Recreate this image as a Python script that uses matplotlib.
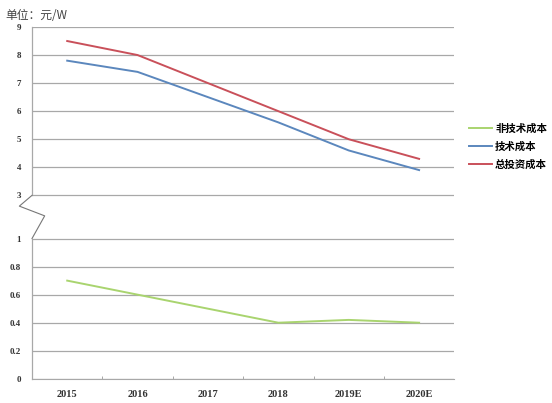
import matplotlib
matplotlib.use("Agg")
import matplotlib.pyplot as plt
import numpy as np

plt.rcParams['font.family'] = ['Noto Sans CJK SC', 'DejaVu Sans']

years = ["2015", "2016", "2017", "2018", "2019E", "2020E"]
non_tech = [0.70, 0.60, 0.50, 0.40, 0.42, 0.40]
tech = [7.8, 7.4, 6.5, 5.6, 4.6, 3.9]
total = [8.5, 8.0, 7.0, 6.0, 5.0, 4.3]

low_ticks = [0, 0.2, 0.4, 0.6, 0.8, 1]
high_ticks = [3, 4, 5, 6, 7, 8, 9]
tick_labels = ["0", "0.2", "0.4", "0.6", "0.8", "1", "3", "4", "5", "6", "7", "8", "9"]

# broken axis: 0-1 stretched (0.2 per unit), gap, then 3-9
GAP = 1.54


def fwd(v):
    v = np.asarray(v, dtype=float)
    return np.where(v <= 1, v * 5,
                    np.where(v >= 3, 5 + GAP + (v - 3),
                             5 + (v - 1) / 2 * GAP))


def inv(s):
    s = np.asarray(s, dtype=float)
    return np.where(s <= 5, s / 5,
                    np.where(s >= 5 + GAP, s - 5 - GAP + 3,
                             1 + (s - 5) / GAP * 2))


fig = plt.figure(figsize=(5.52, 4.03), dpi=100)
ax = fig.add_axes([0.058, 0.06, 0.765, 0.873])
ax.set_yscale("function", functions=(fwd, inv))

x = np.arange(len(years))
ax.plot(x, non_tech, color="#a9d46f", lw=1.4, label="非技术成本")
ax.plot(x, tech, color="#5b87bd", lw=1.4, label="技术成本")
ax.plot(x, total, color="#c9505a", lw=1.4, label="总投资成本")

ax.set_xlim(-0.5, len(years) - 0.5)
ax.set_ylim(0, 9)
ax.set_yticks(low_ticks + high_ticks)
ax.set_yticklabels(tick_labels, fontsize=6.5, family="Liberation Serif",
                   fontweight="bold", color="#333333")
ax.set_xticks(x)
ax.set_xticklabels(years, fontsize=7.5, family="Liberation Serif",
                   fontweight="bold", color="#333333")
ax.set_xticks(np.arange(0.5, len(years) - 1, 1), minor=True)
ax.tick_params(axis="x", which="major", length=0, pad=8)
ax.tick_params(axis="x", which="minor", length=2, direction="in", color="#999999")
ax.tick_params(axis="y", length=0, pad=8)

ax.yaxis.grid(True, color="#a8a8a8", lw=0.9)
ax.set_axisbelow(True)
for s in ["top", "right", "left"]:
    ax.spines[s].set_visible(False)
ax.spines["bottom"].set_color("#a8a8a8")

# y axis line in two parts plus the zigzag break
yt = ax.get_yaxis_transform()
ax.plot([0, 0], [0, 1], color="#a8a8a8", lw=0.9, transform=yt, clip_on=False)
ax.plot([0, 0], [3, 9], color="#a8a8a8", lw=0.9, transform=yt, clip_on=False)
ax.plot([0, -0.03, 0.03, 0], [3, 2.5, 2.05, 1], color="#777777", lw=0.8,
        transform=yt, clip_on=False)

fig.text(0.01, 0.962, "单位：元/W", fontsize=8.5, color="#444444", va="center")

ax.legend(loc="center left", bbox_to_anchor=(1.035, 0.66), frameon=False,
          prop={"size": 7.5, "weight": "bold"}, handlelength=2.2,
          handletextpad=0.3, labelspacing=0.75, borderaxespad=0, borderpad=0)

fig.savefig("out.png", dpi=100)
